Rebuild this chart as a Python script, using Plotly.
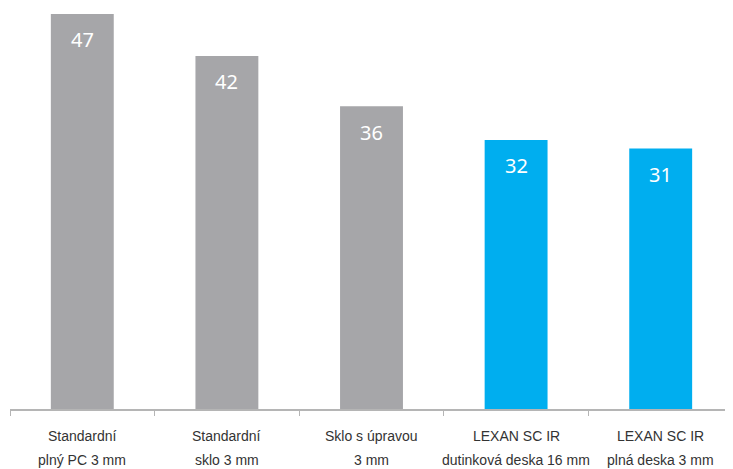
import plotly.graph_objects as go

line1 = ["Standardní", "Standardní", "Sklo s úpravou", "LEXAN SC IR", "LEXAN SC IR"]
line2 = ["plný PC 3 mm", "sklo 3 mm", "3 mm", "dutinková deska 16 mm", "plná deska 3 mm"]
categories = [a + " " + b for a, b in zip(line1, line2)]
values = [47, 42, 36, 32, 31]
colors = ["#a6a6a9", "#a6a6a9", "#a6a6a9", "#00aeef", "#00aeef"]

fig = go.Figure()
fig.add_trace(go.Bar(
    x=categories, y=values, marker=dict(color=colors, line=dict(width=0)),
    width=0.435, hoverinfo="skip",
))

annotations = []
for c, v in zip(categories, values):
    annotations.append(dict(
        x=c, y=v, xref="x", yref="y", text=str(v), showarrow=False,
        yanchor="middle", yshift=-26,
        font=dict(family="Noto Sans, Open Sans, sans-serif", size=20, color="white"),
    ))
for c, a, b in zip(categories, line1, line2):
    annotations.append(dict(
        x=c, y=0, xref="x", yref="y", text=a, showarrow=False,
        yanchor="middle", yshift=-27,
        font=dict(family="Liberation Sans, Arial, sans-serif", size=14, color="#333333"),
    ))
    annotations.append(dict(
        x=c, y=0, xref="x", yref="y", text=b, showarrow=False,
        yanchor="middle", yshift=-51,
        font=dict(family="Liberation Sans, Arial, sans-serif", size=14, color="#333333"),
    ))

fig.update_layout(
    width=725, height=461,
    margin=dict(l=2, r=0, t=0, b=60),
    paper_bgcolor="white", plot_bgcolor="white",
    showlegend=False,
    annotations=annotations,
)
fig.update_xaxes(
    type="category", range=[-0.5, 4.5], showgrid=False, zeroline=False,
    showline=True, linecolor="#b5b5b5", linewidth=1.5,
    tickson="boundaries", ticks="outside", ticklen=5, tickcolor="#b5b5b5",
    showticklabels=False,
)
fig.update_yaxes(range=[0, 47.7], visible=False, showgrid=False, zeroline=False)

fig.write_html("out.html")
